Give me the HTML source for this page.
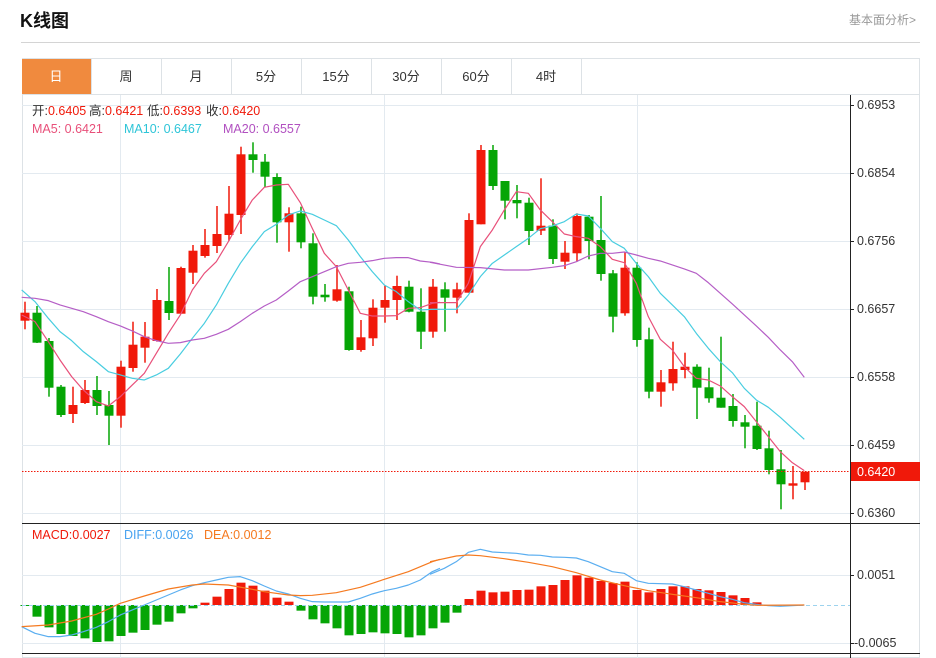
<!DOCTYPE html>
<html><head><meta charset="utf-8"><style>
body{margin:0;background:#fff;width:936px;height:658px;overflow:hidden;font-family:"Liberation Sans","Noto Sans CJK SC",sans-serif;}
</style></head><body>
<svg id="s" width="936" height="658" xmlns="http://www.w3.org/2000/svg" style="position:absolute;left:0;top:0">
<text x="20" y="27" font-size="18" font-weight="bold" fill="#111" font-family="Liberation Sans,Noto Sans CJK SC,sans-serif">K线图</text>
<text x="916" y="24" font-size="12" fill="#999" text-anchor="end" font-family="Liberation Sans,Noto Sans CJK SC,sans-serif">基本面分析&gt;</text>
<line x1="21" y1="42.5" x2="920" y2="42.5" stroke="#d4d4d4"/>
<rect x="22.5" y="58.5" width="897" height="599" fill="none" stroke="#dde2e6"/>
<line x1="22" y1="94.5" x2="920" y2="94.5" stroke="#dde2e6"/>
<rect x="22" y="59" width="69" height="35" fill="#f08a3e"/>
<g font-size="13" fill="#333" text-anchor="middle" font-family="Liberation Sans,Noto Sans CJK SC,sans-serif">
<text x="56" y="81" fill="#fff">日</text><text x="126" y="81">周</text><text x="196" y="81">月</text><text x="266" y="81">5分</text><text x="336" y="81">15分</text><text x="406" y="81">30分</text><text x="476" y="81">60分</text><text x="546" y="81">4时</text>
</g>
<g stroke="#dde2e6"><line x1="91.5" y1="59" x2="91.5" y2="94"/><line x1="161.5" y1="59" x2="161.5" y2="94"/><line x1="231.5" y1="59" x2="231.5" y2="94"/><line x1="301.5" y1="59" x2="301.5" y2="94"/><line x1="371.5" y1="59" x2="371.5" y2="94"/><line x1="441.5" y1="59" x2="441.5" y2="94"/><line x1="511.5" y1="59" x2="511.5" y2="94"/><line x1="581.5" y1="59" x2="581.5" y2="94"/></g>
<g stroke="#e3eaf0">
<line x1="22" y1="105.5" x2="850" y2="105.5"/><line x1="22" y1="173.5" x2="850" y2="173.5"/><line x1="22" y1="241.5" x2="850" y2="241.5"/><line x1="22" y1="309.5" x2="850" y2="309.5"/><line x1="22" y1="377.5" x2="850" y2="377.5"/><line x1="22" y1="445.5" x2="850" y2="445.5"/><line x1="22" y1="513.5" x2="850" y2="513.5"/>
<line x1="22" y1="575.5" x2="850" y2="575.5"/><line x1="22" y1="643.5" x2="850" y2="643.5"/>
<line x1="120.5" y1="95" x2="120.5" y2="658"/><line x1="384.5" y1="95" x2="384.5" y2="658"/><line x1="637.5" y1="95" x2="637.5" y2="658"/>
</g>
<g font-size="12.5" font-family="Liberation Sans,Noto Sans CJK SC,sans-serif">
<text x="32" y="115" fill="#333">开:<tspan fill="#f0190a">0.6405</tspan></text>
<text x="89" y="115" fill="#333">高:<tspan fill="#f0190a">0.6421</tspan></text>
<text x="147" y="115" fill="#333">低:<tspan fill="#f0190a">0.6393</tspan></text>
<text x="206" y="115" fill="#333">收:<tspan fill="#f0190a">0.6420</tspan></text>
<text x="32" y="133" fill="#e8507a">MA5: 0.6421</text><text x="124" y="133" fill="#2ec5d8">MA10: 0.6467</text><text x="223" y="133" fill="#b150c0">MA20: 0.6557</text>
<text x="32" y="539" fill="#f0190a">MACD:0.0027</text><text x="124" y="539" fill="#48a3f0">DIFF:0.0026</text><text x="204" y="539" fill="#f57a20">DEA:0.0012</text>
</g>
<g id="c"></g>
<g id="m"></g>
<line x1="22" y1="471.5" x2="850" y2="471.5" stroke="#f0190a" stroke-dasharray="1.5,1.5"/>
<line x1="22" y1="605.5" x2="850" y2="605.5" stroke="#9dd3ee" stroke-dasharray="4,3"/>
<g fill="none" stroke-width="3.6" stroke-linejoin="round">
<g transform="translate(20,130) scale(0.3333)">
<polyline stroke="#e8507a" points="5,555 45,575 85,635 120,690 155,740 190,780 229,815 265,828 301,800 337,765 373,730 409,670 445,610 481,555 517,480 553,430 589,395 625,335 661,270 697,210 733,172 769,165 805,163 841,218 877,295 913,370 949,410 985,480 1021,550 1057,558 1093,558 1129,557 1165,535 1201,533 1237,520 1260,517"/>
<polyline stroke="#48cde0" points="5,480 45,515 85,565 120,605 155,632 190,665 229,695 265,725 301,735 337,745 373,750 409,735 445,715 481,672 517,625 553,580 589,525 625,460 661,400 697,350 733,305 769,283 805,255 841,243 877,253 913,270 949,287 985,330 1021,380 1057,425 1093,465 1129,485 1165,515 1201,540 1237,538 1260,538"/>
<polyline stroke="#b55ec6" points="5,502 45,505 85,512 120,525 155,535 190,545 229,560 265,575 301,588 337,603 373,620 409,632 445,640 481,638 517,630 553,625 589,613 625,598 661,575 697,550 733,528 769,510 805,483 841,455 877,440 913,425 949,410 985,400 1021,397 1057,392 1093,385 1129,383 1165,383 1201,393 1237,397 1260,402"/>
</g>
<g transform="translate(430,130) scale(0.3333)">
<polyline stroke="#e8507a" points="0,518 79,518 115,460 151,350 187,300 223,240 259,185 295,190 331,240 367,275 403,312 439,320 475,325 511,350 547,388 583,398 619,460 655,560 691,628 727,660 763,710 799,745 835,750 871,768 907,800 943,830 979,875 1015,920 1051,965 1087,998 1123,1022"/>
<polyline stroke="#48cde0" points="0,538 79,538 115,495 151,440 187,400 223,375 259,350 295,325 331,296 367,288 403,275 439,252 475,258 511,295 547,335 583,355 619,400 655,440 691,490 727,525 763,560 799,610 835,655 871,695 907,728 943,775 979,810 1015,832 1051,862 1087,895 1123,928"/>
<polyline stroke="#b55ec6" points="0,397 79,412 151,413 223,420 295,420 367,412 403,407 439,395 475,378 511,370 547,370 583,366 619,375 655,385 691,393 727,405 763,417 799,430 835,458 871,490 907,522 943,555 979,588 1015,622 1051,660 1087,695 1123,742"/>
</g>
<g transform="translate(20,520) scale(0.3333)">
<polyline stroke="#5aaef0" points="5,320 45,340 85,350 120,350 155,345 190,335 229,322 265,305 301,285 337,270 373,255 409,240 445,225 481,210 517,197 553,188 589,180 625,172 661,170 697,182 733,198 769,213 805,222 841,235 877,245 913,246 949,246 985,246 1021,235 1057,222 1093,212 1129,205 1165,195 1201,180 1237,155 1260,145"/>
<polyline stroke="#f57a20" points="5,320 85,315 155,303 229,283 265,267 301,250 373,228 445,207 517,195 553,192 625,195 697,208 733,215 805,225 841,227 877,226 949,218 1021,202 1093,178 1165,155 1237,125 1260,118"/>
</g>
<g transform="translate(430,520) scale(0.3333)">
<polyline stroke="#5aaef0" points="0,163 43,145 79,125 115,97 151,88 187,96 259,100 295,105 331,106 367,111 403,112 439,114 475,125 511,140 547,155 583,160 619,182 655,190 727,192 763,200 799,210 835,220 871,230 907,238 943,248 979,253 1015,257 1051,259 1087,257 1123,255"/>
<polyline stroke="#f57a20" points="0,125 79,108 115,105 151,107 223,116 295,127 367,140 439,158 511,180 583,197 655,212 727,223 799,233 871,245 943,253 979,256 1123,255"/>
</g>
</g>
<line x1="22" y1="523.5" x2="920" y2="523.5" stroke="#222"/>
<line x1="22" y1="653.5" x2="920" y2="653.5" stroke="#222"/>
<line x1="850.5" y1="95" x2="850.5" y2="658" stroke="#222"/>
<g stroke="#222"><line x1="850" y1="105.5" x2="854" y2="105.5"/><line x1="850" y1="173.5" x2="854" y2="173.5"/><line x1="850" y1="241.5" x2="854" y2="241.5"/><line x1="850" y1="309.5" x2="854" y2="309.5"/><line x1="850" y1="377.5" x2="854" y2="377.5"/><line x1="850" y1="445.5" x2="854" y2="445.5"/><line x1="850" y1="513.5" x2="854" y2="513.5"/><line x1="850" y1="575.5" x2="854" y2="575.5"/><line x1="850" y1="643.5" x2="854" y2="643.5"/></g>
<g font-size="12.5" fill="#333" font-family="Liberation Sans,sans-serif">
<text x="857" y="109">0.6953</text><text x="857" y="177">0.6854</text><text x="857" y="245">0.6756</text><text x="857" y="313">0.6657</text><text x="857" y="381">0.6558</text><text x="857" y="449">0.6459</text><text x="857" y="517">0.6360</text>
<text x="857" y="579">0.0051</text><text x="854" y="647">-0.0065</text>
</g>
<rect x="851" y="462" width="69" height="19" fill="#f0190a"/>
<text x="857" y="476" font-size="12.5" fill="#fff" font-family="Liberation Sans,sans-serif">0.6420</text>
</svg>
<script>
var C=[["r",312.7,320.7,301.7,329.3],["g",312.7,342.7,306,343],["g",341,387.7,338,396.7],["g",386.7,415,385,417],["r",405,414,386.7,423],["r",390,403,380,404],["g",390,406,376,415],["g",405,415.7,391,445],["r",366.7,415.7,360.7,427.7],["r",344.7,368,321.7,371.7],["r",336.7,347.7,322,362.7],["r",300,341,289,341.7],["g",301,313,267,320],["r",268,313.7,266.7,313.7],["r",250.7,272.7,245,284],["r",245,256,229,257.7],["r",234,246,206,253],["r",213.7,235,186,240.7],["r",154.3,215,146.7,234],["g",154.3,160,142.3,172.7],["g",161.7,176.7,154,187.3],["g",177,222.3,173.3,242.7],["r",213.3,222.3,207.3,251.7],["g",213.3,242.3,206.7,248.3],["g",243.3,296.7,233.3,304.3],["g",294.7,297.3,284,301.7],["r",289.3,300.7,265,301.7],["g",291.3,350,286.7,350.7],["r",337.3,350,320,351.7],["r",307.7,338.3,299.3,346],["r",300,307.7,285.7,322.7],["r",286,300,275.7,320],["g",286.7,311.7,280.7,312.3],["g",311.7,331.7,288.3,349],["r",286.7,331.7,279,337.7],["g",289.3,297.7,282.3,331.7],["r",289.3,297.7,282.7,313.3],["r",220,292.7,213.3,292.7],["r",150,224.3,145,224.3],["g",150,186,145,190],["g",181,200.7,181,219.3],["g",200,203.3,185,218.3],["g",202.7,231,197.7,245],["r",225.7,230.7,178.3,235],["g",225.7,259,219.3,264],["r",252.7,261.7,241,269],["r",216,253.3,213.3,261.7],["g",216.7,241,215,259.3],["g",240,274,196,280.7],["g",273.3,316.7,270,332.3],["r",267.7,313.3,252.3,315.7],["g",267.7,340,262.3,346.7],["g",339.3,391.7,327.7,398.3],["r",382.3,391.7,370,406.7],["r",369,383.3,341.7,390.7],["r",366.7,370,352.7,378.3],["g",366.7,387.7,364.3,419],["g",387.3,398.3,367.7,402.7],["g",397.7,407.7,336.7,407.7],["g",406,421,394,426.7],["g",422.3,426.7,415,448.3],["g",425.7,449,401.7,450],["g",448.3,470,430.7,474.3],["g",469.3,484.3,450,509.3],["r",483.3,485.7,466,499.3],["r",471.7,482.3,471.7,490]];
var M=[[0,258],[0,290],[0,322],[0,342],[0,348],[0,355],[0,366],[0,364],[0,348],[0,338],[0,330],[0,314],[0,305],[0,280],[0,265],[1,248],[1,230],[1,207],[1,188],[1,197],[1,212],[1,233],[1,245],[0,272],[0,298],[0,310],[0,325],[0,346],[0,342],[0,337],[0,340],[0,342],[0,352],[0,346],[0,325],[0,308],[0,278],[1,237],[1,212],[1,217],[1,215],[1,210],[1,209],[1,199],[1,195],[1,180],[1,166],[1,173],[1,183],[1,189],[1,185],[1,210],[1,217],[1,207],[1,199],[1,199],[1,207],[1,211],[1,216],[1,226],[1,234],[1,247],[1,253],[1,254],[1,254],[1,254]];
var h="",m="";
for(var i=0;i<C.length;i++){var c=C[i],x=25+12*i,col=c[0]=="r"?"#f0190a":"#05a505";
h+='<rect x="'+(x-0.75)+'" y="'+c[3]+'" width="1.5" height="'+(c[4]-c[3])+'" fill="'+col+'"/>';
h+='<rect x="'+(x-4.5)+'" y="'+c[1]+'" width="9" height="'+Math.max(1.5,c[2]-c[1])+'" fill="'+col+'"/>';}
for(var i=0;i<M.length;i++){var b=M[i],x=25+12*i,y=520+b[1]/3,z=605;
var t=Math.min(y,z),hh=Math.abs(y-z);if(hh<0.8)continue;
m+='<rect x="'+(x-4.5)+'" y="'+t+'" width="9" height="'+hh+'" fill="'+(b[0]?"#f0190a":"#05a505")+'"/>';}
document.getElementById("c").innerHTML=h;document.getElementById("m").innerHTML=m;
</script>
</body></html>
